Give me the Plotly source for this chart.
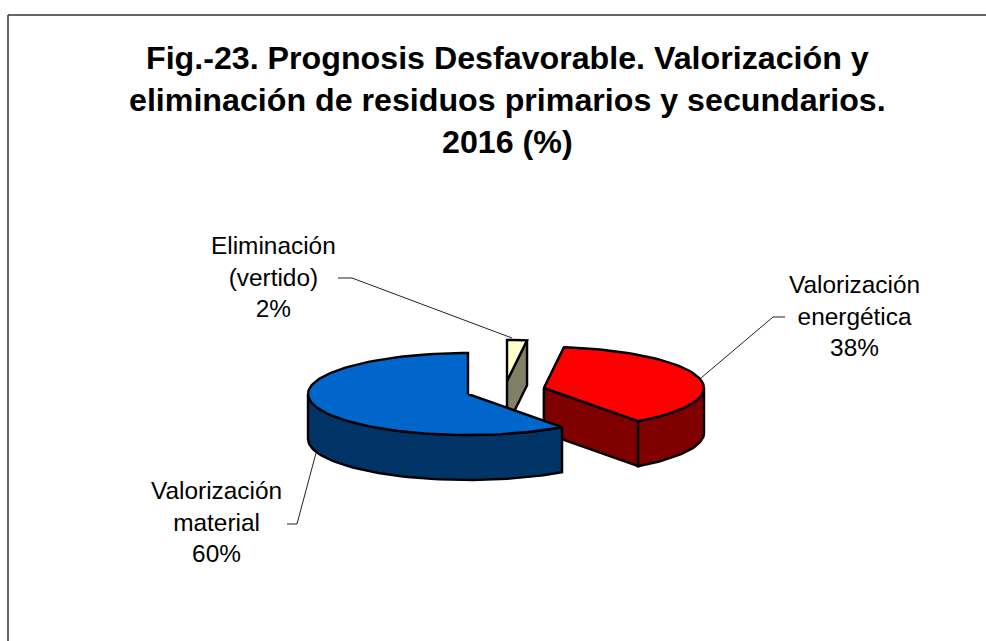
import math
import plotly.graph_objects as go

categories = ["Valorización material", "Eliminación (vertido)", "Valorización energética"]
values = [60, 2, 38]
label_lines = ["Valorización<br>material<br>60%", "Eliminación<br>(vertido)<br>2%", "Valorización<br>energética<br>38%"]
title_text = ("<b>Fig.-23. Prognosis Desfavorable. Valorización y<br>"
              "eliminación de residuos primarios y secundarios.<br>2016 (%)</b>")

top_colors = ["#0066CC", "#FFFFCC", "#FF0000"]
side_colors = ["#003366", "#808066", "#800000"]
apexes = [(468, 394), (507, 381), (544, 388)]
label_pos = [(216, 522), (273.5, 277), (854, 315.5)]
leaders = [([316, 297, 287], [453, 524, 524]),
           ([338, 352, 512], [278, 278, 338]),
           ([701, 773, 785], [378, 317, 317])]
RX, RY, DEPTH = 160, 41, 45
FONT = "Liberation Sans, Arial, sans-serif"


def rim(cx, cy, a0, a1, dy=0, step=2):
    n = max(2, int(abs(a1 - a0) / step) + 1)
    pts = [a0 + (a1 - a0) * i / (n - 1) for i in range(n)]
    return ([cx + RX * math.sin(math.radians(a)) for a in pts],
            [cy + dy - RY * math.cos(math.radians(a)) for a in pts])


# slice angles, clockwise from 12 o'clock; blue ends at the top
ang = {}
start = 360 - values[0] * 3.6
ang[0] = (start, 360)
ang[1] = (0, values[1] * 3.6)
ang[2] = (values[1] * 3.6, values[1] * 3.6 + values[2] * 3.6)

fig = go.Figure()


def poly(xs, ys, color):
    fig.add_trace(go.Scatter(x=xs + xs[:1], y=ys + ys[:1], mode="lines", fill="toself",
                             fillcolor=color, line=dict(color="black", width=2.4),
                             hoverinfo="skip", showlegend=False))


def wedge(i):
    cx, cy = apexes[i]
    a0, a1 = ang[i]
    # radial cut faces
    for a in (a0, a1):
        ex, ey = rim(cx, cy, a, a)
        ex, ey = ex[0], ey[0]
        if (i == 1 and a == a1) or (i == 2 and a in (a0, a1)):
            poly([cx, ex, ex, cx], [cy, ey, ey + DEPTH, cy + DEPTH], side_colors[i])
    # outer wall: the part of the rim facing the viewer
    lo, hi = max(a0, 90), min(a1, 270)
    if hi > lo:
        xs, ys = rim(cx, cy, lo, hi)
        xb, yb = rim(cx, cy, hi, lo, DEPTH)
        poly(xs + xb, ys + yb, side_colors[i])
    # top
    xs, ys = rim(cx, cy, a0, a1)
    poly([cx] + xs, [cy] + ys, top_colors[i])


for i in (2, 1, 0):
    wedge(i)

for lx, ly in leaders:
    fig.add_trace(go.Scatter(x=lx, y=ly, mode="lines", line=dict(color="#222222", width=1),
                             hoverinfo="skip", showlegend=False))

for (x, y), t in zip(label_pos, label_lines):
    fig.add_annotation(x=x, y=y, text=t, showarrow=False, xanchor="center", yanchor="middle",
                       font=dict(family=FONT, size=24.4, color="black"))

fig.add_annotation(x=507, y=99.5, text=title_text, showarrow=False, xanchor="center", yanchor="middle",
                   font=dict(family=FONT, size=32.2, color="black"))

fig.add_shape(type="line", x0=8, x1=8, y0=15, y1=641, line=dict(color="#333333", width=1.5))
fig.add_shape(type="line", x0=8, x1=986, y0=15, y1=15, line=dict(color="#333333", width=1.5))

fig.update_layout(width=986, height=641, margin=dict(l=0, r=0, t=0, b=0),
                  paper_bgcolor="white", plot_bgcolor="white", showlegend=False,
                  xaxis=dict(range=[0, 986], visible=False, fixedrange=True),
                  yaxis=dict(range=[641, 0], visible=False, fixedrange=True))
fig.write_html("out.html", config=dict(displayModeBar=False),
               post_script="document.body.style.margin='0';document.documentElement.style.overflow='hidden';")
